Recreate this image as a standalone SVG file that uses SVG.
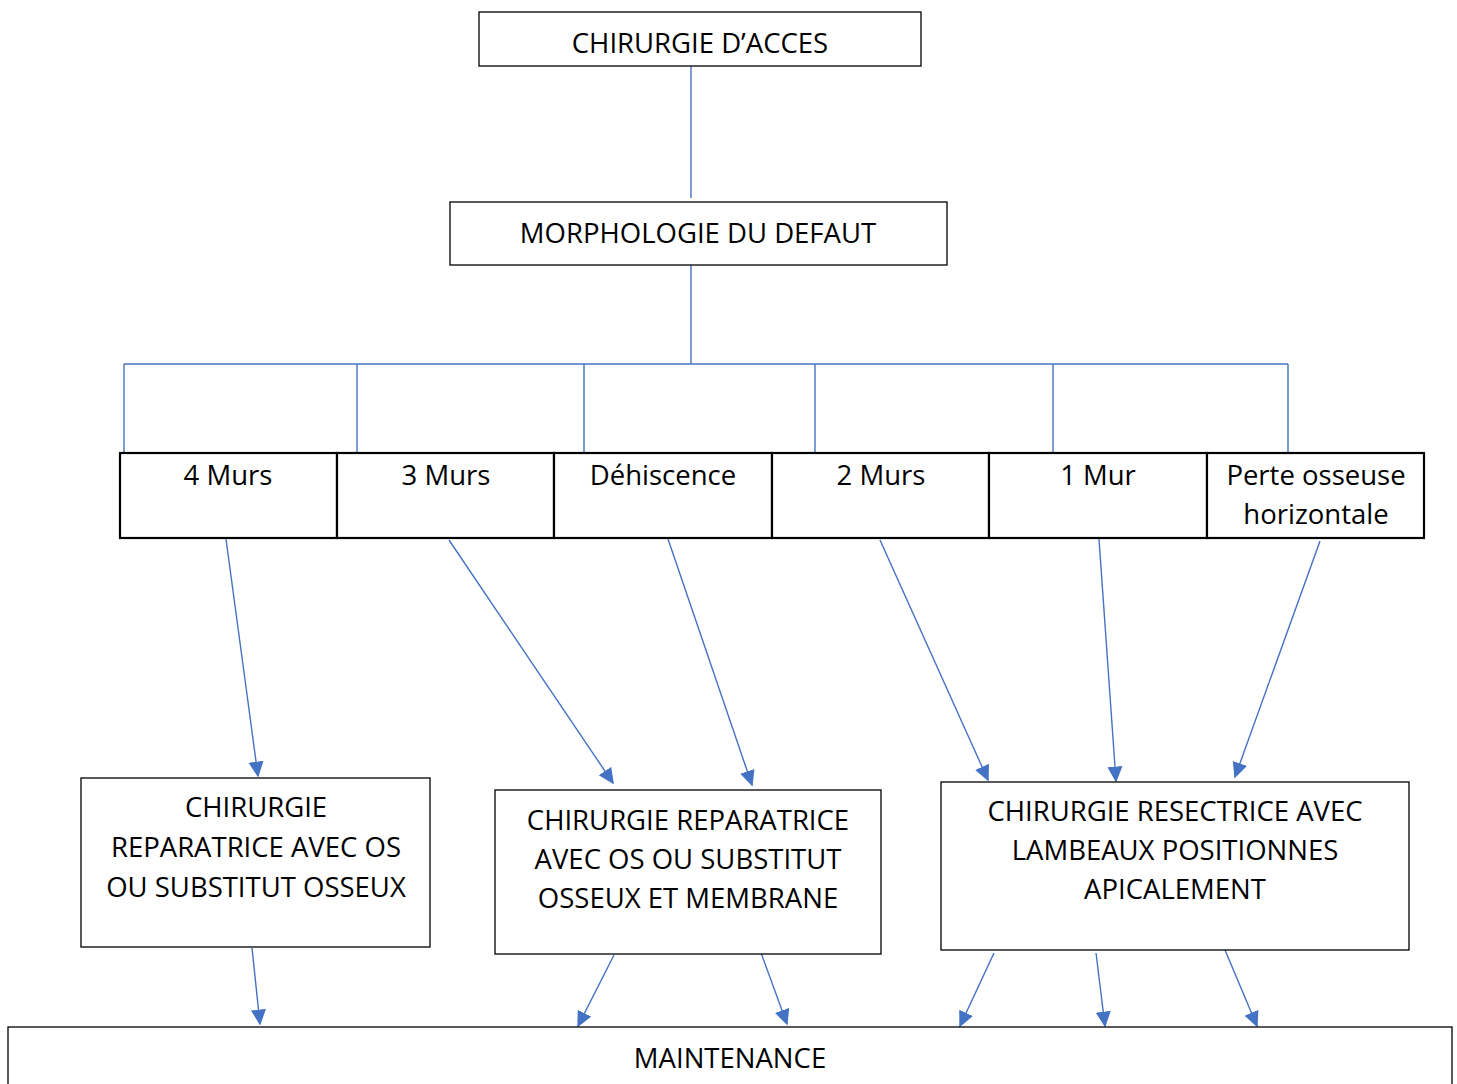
<svg xmlns="http://www.w3.org/2000/svg" width="1457" height="1084" viewBox="0 0 1457 1084">
<defs>
<style>
.box{fill:#fff;stroke:#000;stroke-width:1.3}
.row{fill:#fff;stroke:#000;stroke-width:2.2}
.t{font-family:"Open Sans","Liberation Sans",sans-serif;font-size:27.5px;fill:#000;text-anchor:middle}
.c{stroke:#4472C4;stroke-width:1.4;fill:none}
.a{stroke:#4472C4;stroke-width:1.4;fill:none;marker-end:url(#ah)}
</style>
<marker id="ah" viewBox="0 0 10 10" refX="9" refY="5" markerWidth="16" markerHeight="16" markerUnits="userSpaceOnUse" orient="auto">
<path d="M0,0.3 L10,5 L0,9.7 Z" fill="#4472C4"/>
</marker>
</defs>
<rect width="1457" height="1084" fill="#fff"/>
<g id="connectors">
<line class="c" x1="691" y1="66" x2="691" y2="198"/>
<line class="c" x1="691" y1="265" x2="691" y2="364"/>
<line class="c" x1="124" y1="364" x2="1288" y2="364"/>
<line class="c" x1="124" y1="364" x2="124" y2="452"/>
<line class="c" x1="357" y1="364" x2="357" y2="452"/>
<line class="c" x1="584" y1="364" x2="584" y2="453"/>
<line class="c" x1="815" y1="364" x2="815" y2="453"/>
<line class="c" x1="1053" y1="364" x2="1053" y2="454"/>
<line class="c" x1="1288" y1="364" x2="1288" y2="453"/>
<line class="a" x1="226" y1="539" x2="258" y2="776"/>
<line class="a" x1="449" y1="540" x2="613" y2="783"/>
<line class="a" x1="668" y1="539" x2="752" y2="785"/>
<line class="a" x1="880" y1="540" x2="988" y2="780"/>
<line class="a" x1="1099" y1="539" x2="1116" y2="781"/>
<line class="a" x1="1320" y1="541" x2="1235" y2="777"/>
<line class="a" x1="252" y1="948" x2="260" y2="1024"/>
<line class="a" x1="614" y1="955" x2="578" y2="1026"/>
<line class="a" x1="760" y1="950" x2="787" y2="1024"/>
<line class="a" x1="994" y1="953" x2="960" y2="1026"/>
<line class="a" x1="1096" y1="953" x2="1105" y2="1026"/>
<line class="a" x1="1225" y1="950" x2="1257" y2="1026"/>
</g>
<g id="n-acces">
<rect class="box" x="479" y="12" width="442" height="54"/>
<text class="t" x="700" y="53">CHIRURGIE D’ACCES</text>
</g>
<g id="n-morpho">
<rect class="box" x="450" y="202" width="497" height="63"/>
<text class="t" x="698" y="243">MORPHOLOGIE DU DEFAUT</text>
</g>
<g id="n-4murs">
<rect class="row" x="120" y="453" width="217" height="85"/>
<text class="t" x="228" y="485">4 Murs</text>
</g>
<g id="n-3murs">
<rect class="row" x="337" y="453" width="217" height="85"/>
<text class="t" x="446" y="485">3 Murs</text>
</g>
<g id="n-dehiscence">
<rect class="row" x="554" y="453" width="218" height="85"/>
<text class="t" x="663" y="485">Déhiscence</text>
</g>
<g id="n-2murs">
<rect class="row" x="772" y="453" width="217" height="85"/>
<text class="t" x="881" y="485">2 Murs</text>
</g>
<g id="n-1mur">
<rect class="row" x="989" y="453" width="218" height="85"/>
<text class="t" x="1098" y="485">1 Mur</text>
</g>
<g id="n-perte">
<rect class="row" x="1207" y="453" width="217" height="85"/>
<text class="t" x="1316" y="485">Perte osseuse</text>
<text class="t" x="1316" y="524">horizontale</text>
</g>
<g id="n-rep-os">
<rect class="box" x="81" y="778" width="349" height="169"/>
<text class="t" x="256" y="817">CHIRURGIE</text>
<text class="t" x="256" y="857">REPARATRICE AVEC OS</text>
<text class="t" x="256" y="897">OU SUBSTITUT OSSEUX</text>
</g>
<g id="n-rep-membrane">
<rect class="box" x="495" y="790" width="386" height="164"/>
<text class="t" x="688" y="830">CHIRURGIE REPARATRICE</text>
<text class="t" x="688" y="869">AVEC OS OU SUBSTITUT</text>
<text class="t" x="688" y="908">OSSEUX ET MEMBRANE</text>
</g>
<g id="n-resectrice">
<rect class="box" x="941" y="782" width="468" height="168"/>
<text class="t" x="1175" y="821">CHIRURGIE RESECTRICE AVEC</text>
<text class="t" x="1175" y="860">LAMBEAUX POSITIONNES</text>
<text class="t" x="1175" y="899">APICALEMENT</text>
</g>
<g id="n-maintenance">
<rect class="box" x="8" y="1027" width="1444" height="70"/>
<text class="t" x="730" y="1068">MAINTENANCE</text>
</g>
</svg>
